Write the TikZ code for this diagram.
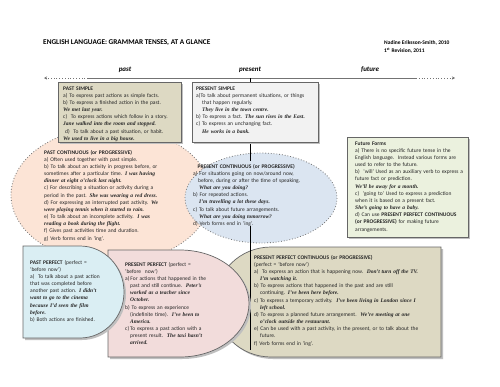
\documentclass[tikz,border=0pt]{standalone}
\usepackage{fontspec}
\setmainfont{Carlito}
\newfontfamily\exfont{Liberation Serif}[Ligatures=TeX]
\usetikzlibrary{arrows.meta}
\newcommand{\bodyfs}{\fontsize{5.5}{7.17}\selectfont}
\newcommand{\exm}[1]{{\exfont\bfseries\itshape #1}}
\definecolor{tanc}{HTML}{DDD9C3}
\definecolor{psgray}{HTML}{F2F2F2}
\definecolor{peach}{HTML}{FCE4D6}
\definecolor{pcblue}{HTML}{DBE5F1}
\definecolor{ffgreen}{HTML}{EBF1DE}
\definecolor{ppblue}{HTML}{DAEEF3}
\definecolor{prpink}{HTML}{F2DCDB}
\tikzset{
  body/.style={anchor=base west, inner sep=0pt, align=left, text width=#1, font=\bodyfs, text=black!85},
  box/.style={draw=black!60, line width=0.7pt},
  shadowfill/.style={fill=black!25},
  oval/.style={draw=black!55, dotted, line width=0.8pt},
  lbl/.style={font=\fontsize{7}{8}\selectfont\bfseries\itshape, inner sep=0pt},
  vline/.style={draw=black, line width=0.8pt},
  tline/.style={draw=black!55, line width=0.8pt},
}
\begin{document}
\begin{tikzpicture}[x=1pt,y=-1pt]
\useasboundingbox[fill=white] (0,0) rectangle (500,386);

% title and author
\node[anchor=west, inner sep=0pt, font=\fontsize{7.3}{8}\selectfont\bfseries] (title) at (43,43) {ENGLISH LANGUAGE: GRAMMAR TENSES, AT A GLANCE};
\node[anchor=west, inner sep=0pt, font=\fontsize{5.5}{6.5}\selectfont\bfseries] (auth1) at (384,43) {Nadine Eriksson-Smith, 2010};
\node[anchor=west, inner sep=0pt, font=\fontsize{5.5}{6.5}\selectfont\bfseries] (auth2) at (384,51) {1\textsuperscript{st} Revision, 2011};

% timeline
\coordinate (tl) at (44,78);
\coordinate (ts) at (88,78);
\coordinate (te) at (416,78);
\coordinate (tr) at (455,78);
\coordinate (pres) at (250,78);
\coordinate (prestick) at (250,82);
\draw[tline] (ts) -- (te);
\draw[tline, dotted, -{Stealth[length=3pt,width=3pt]}] (ts) -- (tl);
\draw[tline, dotted, -{Stealth[length=3pt,width=3pt]}] (te) -- (tr);
\draw[vline] (pres) -- (prestick);
\node[lbl] (lpast) at (125,69.5) {past};
\node[lbl] (lpres) at (250,69.5) {present};
\node[lbl] (lfut) at (370,69.5) {future};

% past continuous and present continuous ovals
\draw[oval, fill=peach] (111,195) ellipse[x radius=100, y radius=68];
\draw[oval, fill=pcblue] (261,198) ellipse[x radius=76, y radius=45];
\coordinate (v1a) at (250,142);
\coordinate (v1b) at (250,161);
\draw[vline] (v1a) -- (v1b);

% past simple
\fill[shadowfill] (60,84) rectangle (183,144);
\draw[box, fill=tanc] (58,82) rectangle (181,142);
% present simple
\fill[shadowfill] (194,84) rectangle (320,144);
\draw[box, fill=psgray] (192,82) rectangle (318,142);
% future forms
\fill[shadowfill] (349,139) rectangle (470,239);
\draw[box, fill=ffgreen] (347,137) rectangle (468,237);

% present perfect continuous
\fill[shadowfill, shift={(2,2)}] (441,247) -- (271,247) arc[start angle=-90, end angle=-270, x radius=56, y radius=55] -- (441,357) -- cycle;
\draw[box, fill=tanc] (441,247) -- (271,247) arc[start angle=-90, end angle=-270, x radius=56, y radius=55] -- (441,357) -- cycle;
\coordinate (v2a) at (250,226);
\coordinate (v2b) at (250,350);
\draw[vline] (v2a) -- (v2b);

% present perfect
\fill[shadowfill, shift={(2,2)}] (108,250) -- (180,250) arc[start angle=-90, end angle=90, x radius=69, y radius=53.5] -- (108,357) -- cycle;
\draw[box, fill=prpink] (108,250) -- (180,250) arc[start angle=-90, end angle=90, x radius=69, y radius=53.5] -- (108,357) -- cycle;

% past perfect
\fill[shadowfill, shift={(2,2)}] (23,246) -- (80,246) arc[start angle=-90, end angle=90, x radius=44, y radius=46] -- (23,338) -- cycle;
\draw[box, fill=ppblue] (23,246) -- (80,246) arc[start angle=-90, end angle=90, x radius=44, y radius=46] -- (23,338) -- cycle;

% texts
\node[body=130pt] (pstxt) at (63,90) {\textbf{PAST SIMPLE}\\
a) To express past actions as simple facts.\\
b) To express a finished action in the past.\\
\exm{We met last year.}\\
c)\ \ To express actions which follow in a story.\\
\exm{Jane walked into the room and stopped.}\\
\hspace*{2pt}d)\ \ To talk about a past situation, or habit.\\
\exm{We used to live in a big house.}};

\node[body=130pt] (prstxt) at (196,90) {\textbf{PRESENT SIMPLE}\\
a)To talk about permanent situations, or things\\
\hspace*{6pt}that happen regularly.\\
\hspace*{6pt}\exm{They live in the town centre.}\\
b) To express a fact. \exm{The sun rises in the East.}\\
c) To express an unchanging fact.\\
\hspace*{6pt}\exm{He works in a bank.}};

\node[body=150pt] (pctxt) at (44,154) {\textbf{PAST CONTINUOUS (or PROGRESSIVE)}\\
a) Often used together with past simple.\\
b) To talk about an activity in progress before, or\\
sometimes after a particular time. \exm{I was having}\\
\exm{dinner at eight o'clock last night.}\\
c) For describing a situation or activity during a\\
period in the past. \exm{She was wearing a red dress.}\\
d) For expressing an interrupted past activity. \exm{We}\\
\exm{were playing tennis when it started to rain.}\\
e) To talk about an incomplete activity.\ \ \exm{I was}\\
\exm{reading a book during the flight.}\\
f) Gives past activities time and duration.\\
g) Verb forms end in `ing'.};

\node[body=140pt] (prctxt) at (193,168) {\hspace*{4.5pt}\textbf{PRESENT CONTINUOUS (or PROGRESSIVE)}\\
a) For situations going on now/around now,\\
\hspace*{5pt}before, during or after the time of speaking.\\
\hspace*{6pt}\exm{What are you doing?}\\
b) For repeated actions.\\
\hspace*{6pt}\exm{I'm travelling a lot these days.}\\
c) To talk about future arrangements.\\
\hspace*{6pt}\exm{What are you doing tomorrow?}\\
d) Verb forms end in `ing'.};

\node[body=115pt] (fftxt) at (355,145) {\textbf{Future Forms}\\
a) There is no specific future tense in the\\
English language.\ \ Instead various forms are\\
used to refer to the future.\\
b)\ \ `will' Used as an auxiliary verb to express a\\
future fact or prediction.\\
\exm{We'll be away for a month.}\\
c)\ \ `going to' Used to express a prediction\\
when it is based on a present fact.\\
\exm{She's going to have a baby.}\\
d) Can use \textbf{PRESENT PERFECT CONTINUOUS}\\
\textbf{(or PROGRESSIVE)} for making future\\
arrangements.};

\node[body=95pt] (papftxt) at (30,264) {\textbf{PAST PERFECT} (perfect =\\
`before now')\\
a)\ \ To talk about a past action\\
that was completed before\\
another past action. \exm{I didn't}\\
\exm{want to go to the cinema}\\
\exm{because I'd seen the film}\\
\exm{before.}\\
b) Both actions are finished.};

\node[body=110pt] (prpftxt) at (125,266) {\textbf{PRESENT PERFECT} (perfect =\\
`before\ \ now')\\
a)\,For actions that happened in the\\
\hspace*{5pt}past and still continue.\ \ \exm{Peter's}\\
\hspace*{5pt}\exm{worked as a teacher since}\\
\hspace*{5pt}\exm{October.}\\
b) To express an experience\\
\hspace*{5pt}(indefinite time).\ \ \exm{I've been to}\\
\hspace*{5pt}\exm{America.}\\
c)\,To express a past action with a\\
\hspace*{5pt}present result.\ \ \exm{The taxi hasn't}\\
\hspace*{5pt}\exm{arrived.}};

\node[body=185pt] (ppctxt) at (254,259) {\textbf{PRESENT PERFECT CONTINUOUS (or PROGRESSIVE)}\\
(perfect = `before now')\\
a)\ \ To express an action that is happening now.\ \ \exm{Don't turn off the TV.}\\
\hspace*{6pt}\exm{I'm watching it.}\\
b) To express actions that happened in the past and are still\\
\hspace*{6pt}continuing. \exm{I've been here before.}\\
c) To express a temporary activity.\ \ \exm{I've been living in London since I}\\
\hspace*{6pt}\exm{left school.}\\
d) To express a planned future arrangement.\ \ \exm{We're meeting at one}\\
\hspace*{6pt}\exm{o'clock outside the restaurant.}\\
e) Can be used with a past activity, in the present, or to talk about the\\
\hspace*{6pt}future.\\
f) Verb forms end in `ing'.};
\end{tikzpicture}
\end{document}
